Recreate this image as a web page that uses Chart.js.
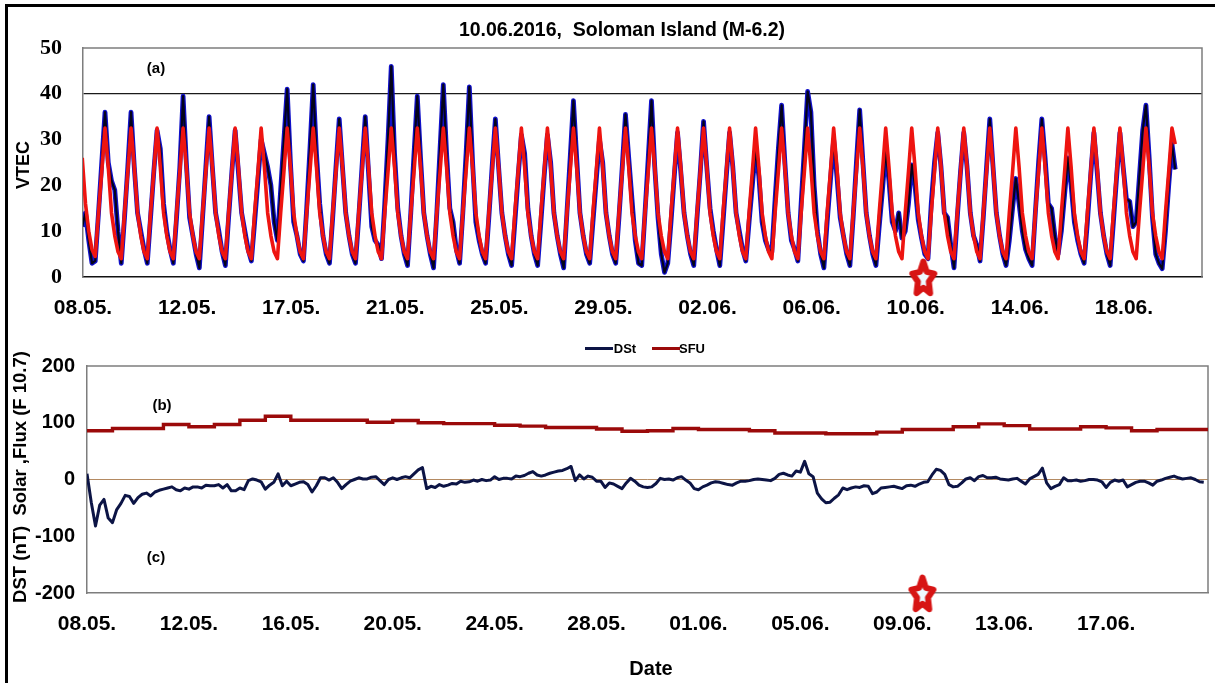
<!DOCTYPE html>
<html>
<head>
<meta charset="utf-8">
<title>10.06.2016, Soloman Island (M-6.2) - VTEC, DSt, SFU</title>
<script src="https://cdn.jsdelivr.net/npm/chart.js@4.4.1/dist/chart.umd.min.js"></script>
<style>
  html, body { margin: 0; padding: 0; background: #fff; }
  body {
    width: 1215px; height: 683px; position: relative; overflow: hidden;
    font-family: "Liberation Sans", Arial, sans-serif; font-weight: bold; color: #000;
  }
  #frame {
    position: absolute; left: 5px; top: 4px; width: 1215px; height: 700px;
    border-top: 3px solid #000; border-left: 3px solid #000;
  }
  canvas { position: absolute; left: 0; }
  #vtecChart { top: 0; }
  #dstChart { top: 330px; }
  .lbl { position: absolute; transform: translate(-50%, -50%); white-space: pre; line-height: 1; }
  .rot { transform: translate(-50%, -50%) rotate(-90deg); }
  .key { position: absolute; height: 3px; width: 28px; }
</style>
</head>
<body>
<div id="frame"></div>
<canvas id="vtecChart" width="1215" height="330"></canvas>
<canvas id="dstChart" width="1215" height="353"></canvas>

<div class="lbl" style="left:622px; top:30px; font-size:19.5px;">10.06.2016,  Soloman Island (M-6.2)</div>
<div class="lbl" style="left:156px; top:67px; font-size:15px;">(a)</div>
<div class="lbl rot" style="left:23px; top:165px; font-size:18px;">VTEC</div>

<div class="key" style="left:585px; top:347px; background:#0c1445;"></div>
<div class="lbl" style="left:625px; top:348px; font-size:13px;">DSt</div>
<div class="key" style="left:652px; top:347px; background:#9b0a0a;"></div>
<div class="lbl" style="left:692px; top:348px; font-size:13px;">SFU</div>

<div class="lbl" style="left:162px; top:404px; font-size:15px;">(b)</div>
<div class="lbl" style="left:156px; top:556px; font-size:15px;">(c)</div>
<div class="lbl rot" style="left:20px; top:477px; font-size:18.5px;">DST (nT)  Solar ,Flux (F 10.7)</div>
<div class="lbl" style="left:651px; top:668px; font-size:20px;">Date</div>

<script>
// ============================================
// TOP PANEL (a): VTEC, 3-hourly samples
// ============================================
const vtecStartHour = -0.7;
const vtecStepHours = 3;
const topAxisHours = 1032;
const topTickStepHours = 96;
const topTickLabels = ['08.05.', '12.05.', '17.05.', '21.05.', '25.05.', '29.05.',
                       '02.06.', '06.06.', '10.06.', '14.06.', '18.06.'];

// observed VTEC (one line per day)
const vtecObserved = [
  11, 14, 8, 3, 3.5, 14, 25, 36,
  25, 21, 19, 10, 3, 13, 24, 36,
  24, 14, 10, 6, 3, 13, 23, 32,
  28, 16, 10, 6, 3, 13, 24, 39.5,
  25, 13, 9, 5, 2, 13, 24, 35,
  24, 14, 10, 5.5, 2.5, 13, 23, 32,
  23, 14, 10, 6, 3.5, 12, 21, 30,
  27, 24, 20, 12, 8, 19, 30, 41,
  25, 12, 9, 5, 3.5, 15, 28, 42,
  27, 16, 9, 5, 3, 13, 24, 34.5,
  24, 14, 9, 5, 3, 13, 24, 35,
  23, 11, 8, 7, 4, 16, 30, 46,
  27, 15, 9, 5, 2.5, 14, 27, 39.5,
  26, 14, 9, 5, 2, 14, 28, 42,
  27, 15, 12, 6, 3, 14, 27, 41.5,
  25, 12, 8, 5, 3, 13, 24, 34.5,
  24, 14, 9, 5, 2.5, 12, 22, 31,
  27, 15, 9, 5, 2.5, 12, 22, 31,
  25, 14, 9, 5, 2, 14, 26, 38.5,
  26, 14, 9, 5, 3, 12, 21, 30,
  25, 14, 9, 5, 3, 13, 24, 35.5,
  26, 17, 8, 3, 2.5, 14, 26, 38.5,
  24, 13, 5, 1, 3, 12, 22, 31.5,
  23, 14, 9, 5, 2.5, 13, 23, 34,
  24, 15, 10, 6, 2.5, 12, 22, 31.5,
  24, 14, 10, 6, 3.5, 12, 20, 28,
  22, 12, 8, 6, 5.5, 17, 28, 37.5,
  25, 14, 8, 6, 3.5, 16, 28, 40.5,
  36, 20, 10, 5, 2, 12, 21, 30,
  22, 13, 9, 5, 2.5, 13, 25, 36.5,
  25, 14, 9, 5, 2.5, 11, 19, 27.5,
  21, 12, 10, 14, 8.5, 10, 16, 24.5,
  20, 12.5, 8.5, 5, 4, 16, 25, 31.5,
  24, 14, 13, 7, 2, 13, 23, 31.5,
  24, 14, 9, 7, 3.5, 13, 24, 34.5,
  24, 14, 9, 5, 2.5, 8, 15, 21.5,
  16, 10, 6, 4, 2.5, 14, 25, 34.5,
  26, 16, 15, 9, 5, 10, 18, 26,
  20, 12, 8, 5, 3, 12, 22, 31.5,
  23, 14, 9, 5, 2.5, 12, 22, 31.5,
  24, 17, 16.5, 11, 12, 22, 32, 37.5,
  26, 13, 5, 3, 1.8, 10, 20, 29,
  23.5
];

// model VTEC (red)
const vtecModel = [
  26, 16, 10, 6, 4.5, 14, 23, 32.5,
  24, 14, 9, 5.5, 4, 14, 23, 32.5,
  24, 14, 9, 5.5, 4, 14, 23, 32.5,
  24, 14, 9, 5.5, 4, 14, 23, 32.5,
  24, 14, 9, 5.5, 4, 14, 23, 32.5,
  24, 14, 9, 5.5, 4, 14, 23, 32.5,
  24, 14, 9, 5.5, 4, 14, 23, 32.5,
  24, 14, 9, 5.5, 4, 14, 23, 32.5,
  24, 14, 9, 5.5, 4, 14, 23, 32.5,
  24, 14, 9, 5.5, 4, 14, 23, 32.5,
  24, 14, 9, 5.5, 4, 14, 23, 32.5,
  24, 14, 9, 5.5, 4, 14, 23, 32.5,
  24, 14, 9, 5.5, 4, 14, 23, 32.5,
  24, 14, 9, 5.5, 4, 14, 23, 32.5,
  24, 14, 9, 5.5, 4, 14, 23, 32.5,
  24, 14, 9, 5.5, 4, 14, 23, 32.5,
  24, 14, 9, 5.5, 4, 14, 23, 32.5,
  24, 14, 9, 5.5, 4, 14, 23, 32.5,
  24, 14, 9, 5.5, 4, 14, 23, 32.5,
  24, 14, 9, 5.5, 4, 14, 23, 32.5,
  24, 14, 9, 5.5, 4, 14, 23, 32.5,
  24, 14, 9, 5.5, 4, 14, 23, 32.5,
  24, 14, 9, 5.5, 4, 14, 23, 32.5,
  24, 14, 9, 5.5, 4, 14, 23, 32.5,
  24, 14, 9, 5.5, 4, 14, 23, 32.5,
  24, 14, 9, 5.5, 4, 14, 23, 32.5,
  24, 14, 9, 5.5, 4, 14, 23, 32.5,
  24, 14, 9, 5.5, 4, 14, 23, 32.5,
  24, 14, 9, 5.5, 4, 14, 23, 32.5,
  24, 14, 9, 5.5, 4, 14, 23, 32.5,
  24, 14, 9, 5.5, 4, 14, 23, 32.5,
  24, 14, 9, 5.5, 4, 14, 23, 32.5,
  24, 14, 9, 5.5, 4, 14, 23, 32.5,
  24, 14, 9, 5.5, 4, 14, 23, 32.5,
  24, 14, 9, 5.5, 4, 14, 23, 32.5,
  24, 14, 9, 5.5, 4, 14, 23, 32.5,
  24, 14, 9, 5.5, 4, 14, 23, 32.5,
  24, 14, 9, 5.5, 4, 14, 23, 32.5,
  24, 14, 9, 5.5, 4, 14, 23, 32.5,
  24, 14, 9, 5.5, 4, 14, 23, 32.5,
  24, 14, 9, 5.5, 4, 14, 23, 32.5,
  24, 14, 9, 5.5, 4, 14, 23, 32.5,
  29
];

// ============================================
// BOTTOM PANEL (b)/(c): DSt (4-hourly) and SFU (daily)
// ============================================
const bottomAxisHours = 1056;
const bottomTickStepHours = 96;
const bottomTickLabels = ['08.05.', '12.05.', '16.05.', '20.05.', '24.05.', '28.05.',
                          '01.06.', '05.06.', '09.06.', '13.06.', '17.06.'];
const dstStepHours = 4;
const dstValues = [
  10, -40, -82, -45, -35, -68, -76, -53, -42, -28,
  -30, -42, -32, -26, -24, -29, -22, -19, -17, -15,
  -13, -18, -20, -15, -17, -13, -13, -15, -10, -11,
  -11, -9, -15, -9, -20, -20, -15, -18, -2, 1,
  -1, -4, -17, -10, -5, 10, -11, -3, -11, -8,
  -5, -4, -9, -22, -11, 3, 3, -1, 3, -5,
  -16, -9, -3, 0, 3, 1, 1, 4, 5, -2,
  -9, 0, 3, 0, 3, 5, 3, 10, 17, 21,
  -16, -12, -14, -9, -12, -10, -7, -8, -3, -5,
  -4, -1, -3, 0, -2, -1, 5, 0, 2, 2,
  1, 6, 5, 7, 11, 14, 8, 6, 8, 11,
  13, 15, 16, 19, 23, -2, 8, 1, 6, 4,
  -3, -3, -14, -6, -8, -12, -16, -6, 2, -3,
  -10, -13, -14, -13, -7, 2, 0, 1, -1, 3,
  5, -1, -6, -16, -18, -13, -10, -6, -4, -5,
  -7, -9, -10, -6, -3, -3, -2, 0, 1, 0,
  -1, -2, 2, 9, 11, 8, 6, 15, 13, 32,
  10, 5, -24, -34, -41, -40, -33, -27, -15, -18,
  -15, -13, -14, -11, -12, -25, -22, -15, -14, -13,
  -12, -14, -16, -11, -10, -12, -8, -5, -4, 8,
  18, 16, 9, -9, -13, -12, -6, 1, 3, -2,
  5, 7, 3, 3, 4, 1, 0, -1, 1, 2,
  -3, -8, 1, 5, 9, 20, -6, -16, -12, -9,
  3, -2, -2, -1, -3, -2, 0, 0, -1, -4,
  -14, -5, -1, -3, -1, -13, -9, -5, -3, -3,
  -6, -10, -3, -1, 2, 4, 6, 3, 1, 2,
  3, 0, -4, -5
];
const sfuDaily = [
  86, 90, 90, 97, 93, 97, 104.5, 111.5, 104.5, 104.5,
  104.5, 101, 104, 100, 98.5, 98.5, 95.5, 94, 91.5, 91.5,
  89, 85, 86, 90, 88, 88, 86, 82, 82, 80.5,
  80.5, 83.5, 88, 88, 93, 98, 95, 89, 89, 93,
  91, 86, 88, 88
];

// earthquake marker (10.06.2016), hours from 08.05
const quakeTop = [{ x: 775, y: 0 }];
const quakeBottom = [{ x: 787, y: -200 }];

// ============================================
// helpers
// ============================================
const toPoints = (values, start, step) => values.map((v, i) => ({ x: start + i * step, y: v }));

function sfuPoints() {
  const pts = sfuDaily.map((v, n) => ({ x: n * 24, y: v }));
  pts.push({ x: bottomAxisHours, y: sfuDaily[sfuDaily.length - 1] });
  return pts;
}

function makeStar(w, h) {
  const c = document.createElement('canvas');
  c.width = w; c.height = h;
  const g = c.getContext('2d');
  const cx = w / 2, cy = h / 2 + 2;
  const rx = w / 2 - 3.5, ry = h / 2 - 3.5;
  g.beginPath();
  for (let k = 0; k < 10; k++) {
    const r = k % 2 ? 0.5 : 1;
    const a = -Math.PI / 2 + k * Math.PI / 5;
    g.lineTo(cx + Math.cos(a) * rx * r, cy + Math.sin(a) * ry * r);
  }
  g.closePath();
  g.fillStyle = '#eef8ff';
  g.fill();
  g.lineWidth = 6;
  g.lineJoin = 'round';
  g.strokeStyle = '#d71414';
  g.stroke();
  return c;
}

const plotFrame = {
  id: 'plotFrame',
  beforeDatasetsDraw(chart, args, opts) {
    const { left, top, right, bottom } = chart.chartArea;
    const ctx = chart.ctx;
    ctx.save();
    ctx.strokeStyle = opts.color;
    ctx.lineWidth = opts.width;
    ctx.beginPath();
    ctx.moveTo(left, top);
    ctx.lineTo(right, top);
    ctx.lineTo(right, bottom);
    ctx.stroke();
    ctx.restore();
  }
};

const serifTicks = { family: 'Liberation Serif', weight: 'bold', size: 22 };
const sansTicks = { family: 'Liberation Sans', weight: 'bold', size: 20 };
const dateTicks = { family: 'Liberation Sans', weight: 'bold', size: 21 };

function fixWidth(w) {
  return s => { s.width = w; s.paddingTop = 0; s.paddingBottom = 0; };
}
function fixHeight(h) {
  return s => { s.height = h; s.paddingLeft = 0; s.paddingRight = 0; };
}
function dateTickBuilder(labels, step) {
  return s => { s.ticks = labels.map((_, i) => ({ value: i * step })); };
}

Chart.defaults.animation = false;

// ============================================
// top chart
// ============================================
const starImg = makeStar(30, 42);

new Chart(document.getElementById('vtecChart'), {
  type: 'line',
  data: {
    datasets: [
      { type: 'scatter', data: quakeTop, pointStyle: starImg, pointRadius: 6, clip: false },
      { label: 'Model', data: toPoints(vtecModel, vtecStartHour, vtecStepHours),
        borderColor: '#ee1410', borderWidth: 3.6, pointRadius: 0, tension: 0, borderJoinStyle: 'round' },
      { label: 'VTEC', data: toPoints(vtecObserved, vtecStartHour, vtecStepHours),
        borderColor: '#04041a', borderWidth: 2.2, pointRadius: 0, tension: 0, borderJoinStyle: 'round' },
      { label: 'VTEC', data: toPoints(vtecObserved, vtecStartHour, vtecStepHours),
        borderColor: '#1010c8', borderWidth: 4.8, pointRadius: 0, tension: 0, borderJoinStyle: 'round' }
    ]
  },
  options: {
    responsive: false,
    maintainAspectRatio: false,
    layout: { padding: { left: 0, top: 48, right: 13, bottom: 3 } },
    plugins: {
      legend: { display: false },
      tooltip: { enabled: false },
      plotFrame: { color: '#7d7d7d', width: 1.5 }
    },
    scales: {
      x: {
        type: 'linear', min: 0, max: topAxisHours,
        afterBuildTicks: dateTickBuilder(topTickLabels, topTickStepHours),
        afterFit: fixHeight(50),
        grid: { display: false, drawTicks: false },
        border: { color: '#111', width: 1.5 },
        ticks: {
          autoSkip: false, maxRotation: 0, padding: 19, color: '#000', font: dateTicks,
          callback: v => topTickLabels[Math.round(v / topTickStepHours)]
        }
      },
      y: {
        min: 0, max: 50,
        afterFit: fixWidth(83),
        grid: {
          drawTicks: false, lineWidth: 1.3,
          color: c => (c.tick && c.tick.value === 40 ? '#1a1a1a' : 'rgba(0,0,0,0)')
        },
        border: { color: '#7d7d7d', width: 1.5 },
        ticks: { stepSize: 10, padding: 21, color: '#000', font: serifTicks }
      }
    }
  },
  plugins: [plotFrame]
});

// ============================================
// bottom chart
// ============================================
new Chart(document.getElementById('dstChart'), {
  type: 'line',
  data: {
    datasets: [
      { type: 'scatter', data: quakeBottom, pointStyle: starImg, pointRadius: 6, clip: false },
      { label: 'DSt', data: toPoints(dstValues, 0, dstStepHours),
        borderColor: '#0c1445', borderWidth: 3, pointRadius: 0, tension: 0, borderJoinStyle: 'round' },
      { label: 'SFU', data: sfuPoints(), stepped: 'before',
        borderColor: '#9b0a0a', borderWidth: 3.4, pointRadius: 0 }
    ]
  },
  options: {
    responsive: false,
    maintainAspectRatio: false,
    layout: { padding: { left: 0, top: 36, right: 4, bottom: 30 } },
    plugins: {
      legend: { display: false },
      tooltip: { enabled: false },
      plotFrame: { color: '#7d7d7d', width: 1.5 }
    },
    scales: {
      x: {
        type: 'linear', min: 0, max: bottomAxisHours,
        afterBuildTicks: dateTickBuilder(bottomTickLabels, bottomTickStepHours),
        afterFit: fixHeight(60),
        grid: { display: false, drawTicks: false },
        border: { color: '#7d7d7d', width: 1.5 },
        ticks: {
          autoSkip: false, maxRotation: 0, padding: 19, color: '#000', font: dateTicks,
          callback: v => bottomTickLabels[Math.round(v / bottomTickStepHours)]
        }
      },
      y: {
        min: -200, max: 200,
        afterFit: fixWidth(87),
        grid: {
          drawTicks: false, lineWidth: 1,
          color: c => (c.tick && c.tick.value === 0 ? '#b48a62' : 'rgba(0,0,0,0)')
        },
        border: { color: '#7d7d7d', width: 1.5 },
        ticks: { stepSize: 100, padding: 12, color: '#000', font: sansTicks }
      }
    }
  },
  plugins: [plotFrame]
});
</script>
</body>
</html>
